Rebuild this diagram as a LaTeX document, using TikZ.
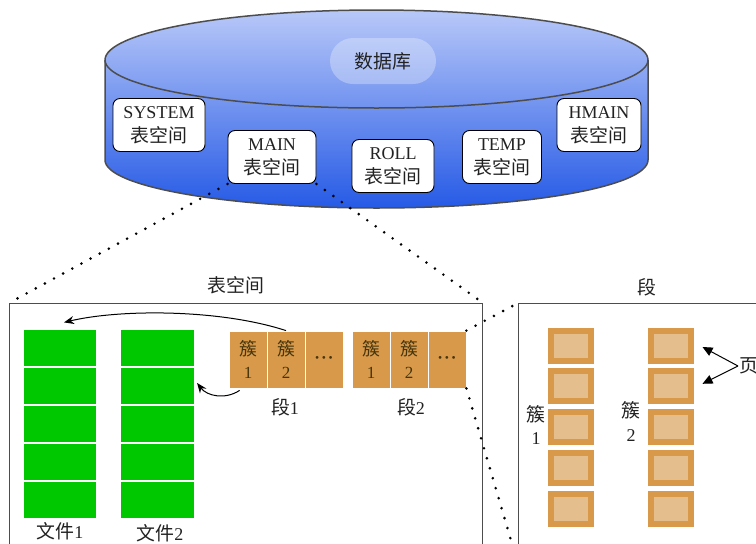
\documentclass[tikz,border=0pt]{standalone}
\usepackage{fontspec}
\setmainfont{Liberation Serif}
\newfontfamily\cjk[Scale=1.05]{Noto Sans CJK SC}
\usetikzlibrary{arrows.meta,calc}
\newcommand\zhtext[1]{{\cjk #1}}
\definecolor{outline}{HTML}{4D4D4D}
\definecolor{dbtop}{RGB}{184,200,248}
\definecolor{dbbot}{RGB}{38,90,230}
\definecolor{filegreen}{RGB}{0,200,0}
\definecolor{clusterfill}{RGB}{216,154,74}
\definecolor{clustertext}{RGB}{70,52,12}
\definecolor{pagein}{RGB}{228,190,140}
\definecolor{textgray}{HTML}{222222}
\begin{document}
\begin{tikzpicture}[x=1pt,y=-1pt,
  every node/.style={font=\fontsize{18}{24}\selectfont, text=textgray},
  tsbox/.style={draw=black, line width=0.9pt, fill=white, rounded corners=7pt,
    align=center, inner sep=0pt, minimum height=53pt},
  dbtag/.style={fill=white, fill opacity=0.3, text opacity=1, rounded corners=23pt,
    minimum width=106pt, minimum height=46pt, inner sep=0pt},
  frame/.style={draw=outline, line width=1.1pt, fill=white, inner sep=0pt},
  filecell/.style={fill=filegreen, draw=white, line width=1.2pt,
    minimum width=74pt, minimum height=38pt, inner sep=0pt},
  clustercell/.style={fill=clusterfill, draw=white, line width=0.8pt,
    minimum width=38pt, minimum height=57pt, inner sep=0pt, align=center,
    text=clustertext, font=\fontsize{17}{23}\selectfont},
  pagecell/.style={draw=clusterfill, line width=6pt, fill=pagein,
    minimum width=40pt, minimum height=30pt, inner sep=0pt},
  dotline/.style={line width=2.9pt, dash pattern=on 0pt off 10.4pt, line cap=round},
  linkarrow/.style={line width=1pt, -{Stealth[length=10pt,width=8pt]}},
  pagearrow/.style={line width=1pt, -{Triangle[length=10pt,width=9pt]}}
]
\useasboundingbox (0,0) rectangle (756,544);
\clip (0,0) rectangle (756,544);

% database cylinder
\shade[top color=dbtop, bottom color=dbbot]
  (105,60) arc[start angle=180, end angle=360, x radius=271.5, y radius=50]
  -- (648,160) arc[start angle=0, end angle=180, x radius=271.5, y radius=48] -- cycle;
\draw[outline, line width=1.5pt]
  (105,60) arc[start angle=180, end angle=360, x radius=271.5, y radius=50]
  -- (648,160) arc[start angle=0, end angle=180, x radius=271.5, y radius=48] -- cycle;
\draw[outline, line width=1.5pt]
  (105,60) arc[start angle=180, end angle=0, x radius=271.5, y radius=48];
\node[dbtag] (dblabel) at (383,61) {\zhtext{数据库}};

% tablespaces inside the database
\node[tsbox, minimum width=92pt] (sys)   at (159,125) {SYSTEM\\\zhtext{表空间}};
\node[tsbox, minimum width=88pt] (main)  at (272,157) {MAIN\\\zhtext{表空间}};
\node[tsbox, minimum width=82pt] (roll)  at (393,166) {ROLL\\\zhtext{表空间}};
\node[tsbox, minimum width=79pt] (temp)  at (502,157) {TEMP\\\zhtext{表空间}};
\node[tsbox, minimum width=84pt] (hmain) at (599,125) {HMAIN\\\zhtext{表空间}};

% detail frames
\node[frame, minimum width=473pt, minimum height=260pt, anchor=north west] (tbs) at (9,303) {};
\node at (236,285) (tbstitle) {\zhtext{表空间}};
\node[frame, minimum width=260pt, minimum height=260pt, anchor=north west] (seg) at (518,303) {};
\node at (647,287) (segtitle) {\zhtext{段}};

% data files
\foreach \i/\y in {1/348,2/386,3/424,4/462,5/500}{
  \node[filecell] (f1\i) at (60,\y) {};
  \node[filecell] (f2\i) at (157.5,\y) {};
}
\node at (60,531) (file1) {\zhtext{文件}1};
\node at (160,533) (file2) {\zhtext{文件}2};

% segments made of clusters
\node[clustercell] (c11) at (248,359.5) {\zhtext{簇}\\1};
\node[clustercell] (c12) at (286,359.5) {\zhtext{簇}\\2};
\node[clustercell] (c13) at (324,359.5) {\bfseries ·\kern1pt·\kern1pt·};
\node[clustercell] (c21) at (371,359.5) {\zhtext{簇}\\1};
\node[clustercell] (c22) at (409,359.5) {\zhtext{簇}\\2};
\node[clustercell] (c23) at (447,359.5) {\bfseries ·\kern1pt·\kern1pt·};
\node at (285,407) (seg1) {\zhtext{段}1};
\node at (411,407) (seg2) {\zhtext{段}2};

% cluster-to-file links
\draw[linkarrow] (c12.north) .. controls (220,309) and (120,309) .. ($(f11.north)+(4,-6)$);
\draw[linkarrow] ($(c11.south west)+(11,2)$) .. controls (225,400) and (207,396) .. ($(f22.east)+(2,-3)$);

% pages of a segment
\foreach \i/\y in {1/345.5,2/386.3,3/427.2,4/468.1,5/509}{
  \node[pagecell] (p1\i) at (571,\y) {};
  \node[pagecell] (p2\i) at (670.5,\y) {};
}
\node[align=center] (k1) at (536,425) {\zhtext{簇}\\1};
\node[align=center] (k2) at (631,421) {\zhtext{簇}\\2};
\node[anchor=west, inner sep=1pt] (pg) at (738,366) {\zhtext{页}};
\draw[pagearrow] (pg.west) -- ($(p21.east)+(9,1.5)$);
\draw[pagearrow] (pg.west) -- ($(p22.east)+(9,-2.5)$);

% zoom-in guides
\draw[dotline] (main.south west) -- (tbs.north west);
\draw[dotline] (main.south east) -- (tbs.north east);
\draw[dotline] (c23.north east) -- (seg.north west);
\draw[dotline] (c23.south east) -- (seg.south west);
\end{tikzpicture}
\end{document}
